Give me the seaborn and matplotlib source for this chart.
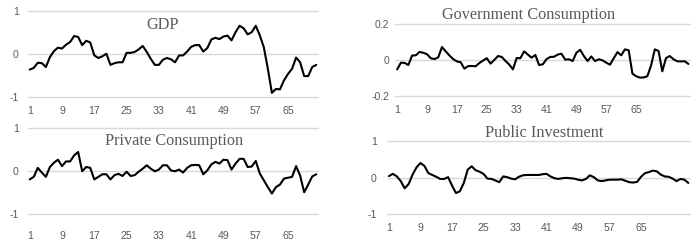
import matplotlib
matplotlib.use("Agg")
import matplotlib.pyplot as plt
import seaborn as sns
import pandas as pd
import numpy as np

# ---- data ----
gdp = [-0.37, -0.33, -0.21, -0.22, -0.31, -0.08, 0.06, 0.14, 0.12, 0.21,
       0.27, 0.41, 0.39, 0.20, 0.30, 0.26, -0.04, -0.10, -0.06, 0.00,
       -0.26, -0.22, -0.20, -0.20, 0.02, 0.02, 0.04, 0.10, 0.18, 0.04,
       -0.12, -0.26, -0.26, -0.14, -0.10, -0.13, -0.20, -0.04, -0.04, 0.05,
       0.16, 0.20, 0.20, 0.05, 0.13, 0.33, 0.37, 0.34, 0.40, 0.42,
       0.31, 0.50, 0.65, 0.59, 0.45, 0.50, 0.65, 0.43, 0.15, -0.35,
       -0.91, -0.82, -0.83, -0.62, -0.47, -0.35, -0.09, -0.20, -0.52, -0.52,
       -0.31, -0.26]

gov = [-0.052, -0.015, -0.016, -0.028, 0.025, 0.026, 0.045, 0.040, 0.032, 0.010,
       0.005, 0.015, 0.072, 0.048, 0.025, 0.005, -0.008, -0.012, -0.048, -0.034,
       -0.033, -0.035, -0.017, -0.003, 0.010, -0.020, 0.000, 0.022, 0.017, -0.005,
       -0.025, -0.052, 0.011, 0.010, 0.048, 0.030, 0.013, 0.028, -0.028, -0.024,
       0.005, 0.017, 0.018, 0.030, 0.035, 0.002, 0.004, -0.006, 0.040, 0.057,
       0.022, -0.006, 0.020, -0.006, 0.004, -0.002, -0.015, -0.026, 0.010, 0.044,
       0.026, 0.059, 0.054, -0.076, -0.090, -0.098, -0.097, -0.090, -0.030, 0.059,
       0.050, -0.063, 0.011, 0.022, 0.004, -0.007, -0.008, -0.007, -0.022]

private = [-0.20, -0.14, 0.07, -0.04, -0.14, 0.09, 0.19, 0.26, 0.11, 0.22,
           0.22, 0.36, 0.44, -0.01, 0.09, 0.07, -0.20, -0.14, -0.08, -0.08,
           -0.20, -0.10, -0.07, -0.12, -0.02, -0.12, -0.10, -0.02, 0.05, 0.13,
           0.05, -0.01, 0.03, 0.13, 0.13, 0.01, -0.01, 0.03, -0.04, 0.07,
           0.13, 0.14, 0.13, -0.08, 0.01, 0.15, 0.21, 0.17, 0.26, 0.25,
           0.03, 0.17, 0.28, 0.28, 0.09, 0.10, 0.23, -0.06, -0.22, -0.38,
           -0.53, -0.38, -0.32, -0.18, -0.16, -0.14, 0.11, -0.11, -0.50, -0.32,
           -0.13, -0.08]

pubinv = [0.04, 0.10, 0.03, -0.10, -0.30, -0.18, 0.08, 0.28, 0.40, 0.32,
          0.12, 0.07, 0.02, -0.04, -0.04, 0.01, -0.22, -0.43, -0.38, -0.15,
          0.22, 0.31, 0.20, 0.16, 0.10, -0.03, -0.04, -0.08, -0.13, 0.03,
          0.01, -0.03, -0.05, 0.02, 0.06, 0.07, 0.07, 0.07, 0.07, 0.09,
          0.10, 0.03, -0.02, -0.04, -0.02, -0.01, -0.02, -0.03, -0.06, -0.08,
          -0.04, 0.06, 0.01, -0.08, -0.10, -0.08, -0.06, -0.06, -0.06, -0.05,
          -0.09, -0.13, -0.14, -0.12, 0.02, 0.12, 0.15, 0.19, 0.17, 0.08,
          0.03, 0.02, -0.03, -0.10, -0.04, -0.06, -0.15]

titles = ["GDP", "Government Consumption", "Private Consumption", "Public Investment"]
series = [gdp, gov, private, pubinv]
xtick_labels = [1, 9, 17, 25, 33, 41, 49, 57, 65]
yticks_list = [[-1, 0, 1], [-0.2, 0, 0.2], [-1, 0, 1], [-1, 0, 1]]
ytick_labels_list = [["-1", "0", "1"], ["-0.2", "0", "0.2"], ["-1", "0", "1"], ["-1", "0", "1"]]

# ---- layout (pixels) ----
W, H = 697, 244
# left, right, top(val max), bottom(val min)
boxes = [(27.7, 318.3, 10.7, 96.7),
         (395.3, 690.3, 24.0, 96.0),
         (27.7, 318.3, 128.0, 213.7),
         (387.0, 690.3, 141.3, 213.7)]
title_pos = [(0.466, 0.834), (0.452, 1.125), (0.503, 0.848), (0.518, 1.11)]
xpads = [7.0, 6.3, 12.5, 6.5]
ypads = [6.5, 4.5, 6.5, 7.5]

sns.set_theme(style="white")
plt.rcParams['font.family'] = ['Liberation Sans', 'DejaVu Sans']

fig = plt.figure(figsize=(W / 100, H / 100), dpi=100)
grey = "#595959"

for k in range(4):
    l, r, t, b = boxes[k]
    ax = fig.add_axes([l / W, (H - b) / H, (r - l) / W, (b - t) / H])
    vals = series[k]
    df = pd.DataFrame({"t": np.arange(1, len(vals) + 1), "v": vals})
    sns.lineplot(data=df, x="t", y="v", ax=ax, color="black", linewidth=1.5, zorder=3)
    yt = yticks_list[k]
    ax.set_ylim(yt[0], yt[-1])
    ax.set_xlim(0.5, len(vals) + 0.5)
    for yv in yt:
        ax.axhline(yv, color="#d9d9d9", linewidth=1.0, zorder=1, clip_on=False)
    ax.set_yticks(yt)
    ax.set_yticklabels(ytick_labels_list[k])
    ax.set_xticks(xtick_labels)
    ax.set_xticklabels([str(v) for v in xtick_labels])
    ax.tick_params(axis="x", length=0, pad=xpads[k], labelsize=7.6, colors=grey)
    ax.tick_params(axis="y", length=0, pad=ypads[k], labelsize=7.6, colors=grey)
    ax.set_xlabel("")
    ax.set_ylabel("")
    for s in ax.spines.values():
        s.set_visible(False)
    ax.grid(False)
    ax.patch.set_alpha(0)
    tx, ty = title_pos[k]
    ax.text(tx, ty, titles[k], transform=ax.transAxes, ha="center", va="center",
            fontsize=11.7, color=grey, family=["Liberation Serif", "DejaVu Serif"])

fig.savefig("out.png", dpi=100)
